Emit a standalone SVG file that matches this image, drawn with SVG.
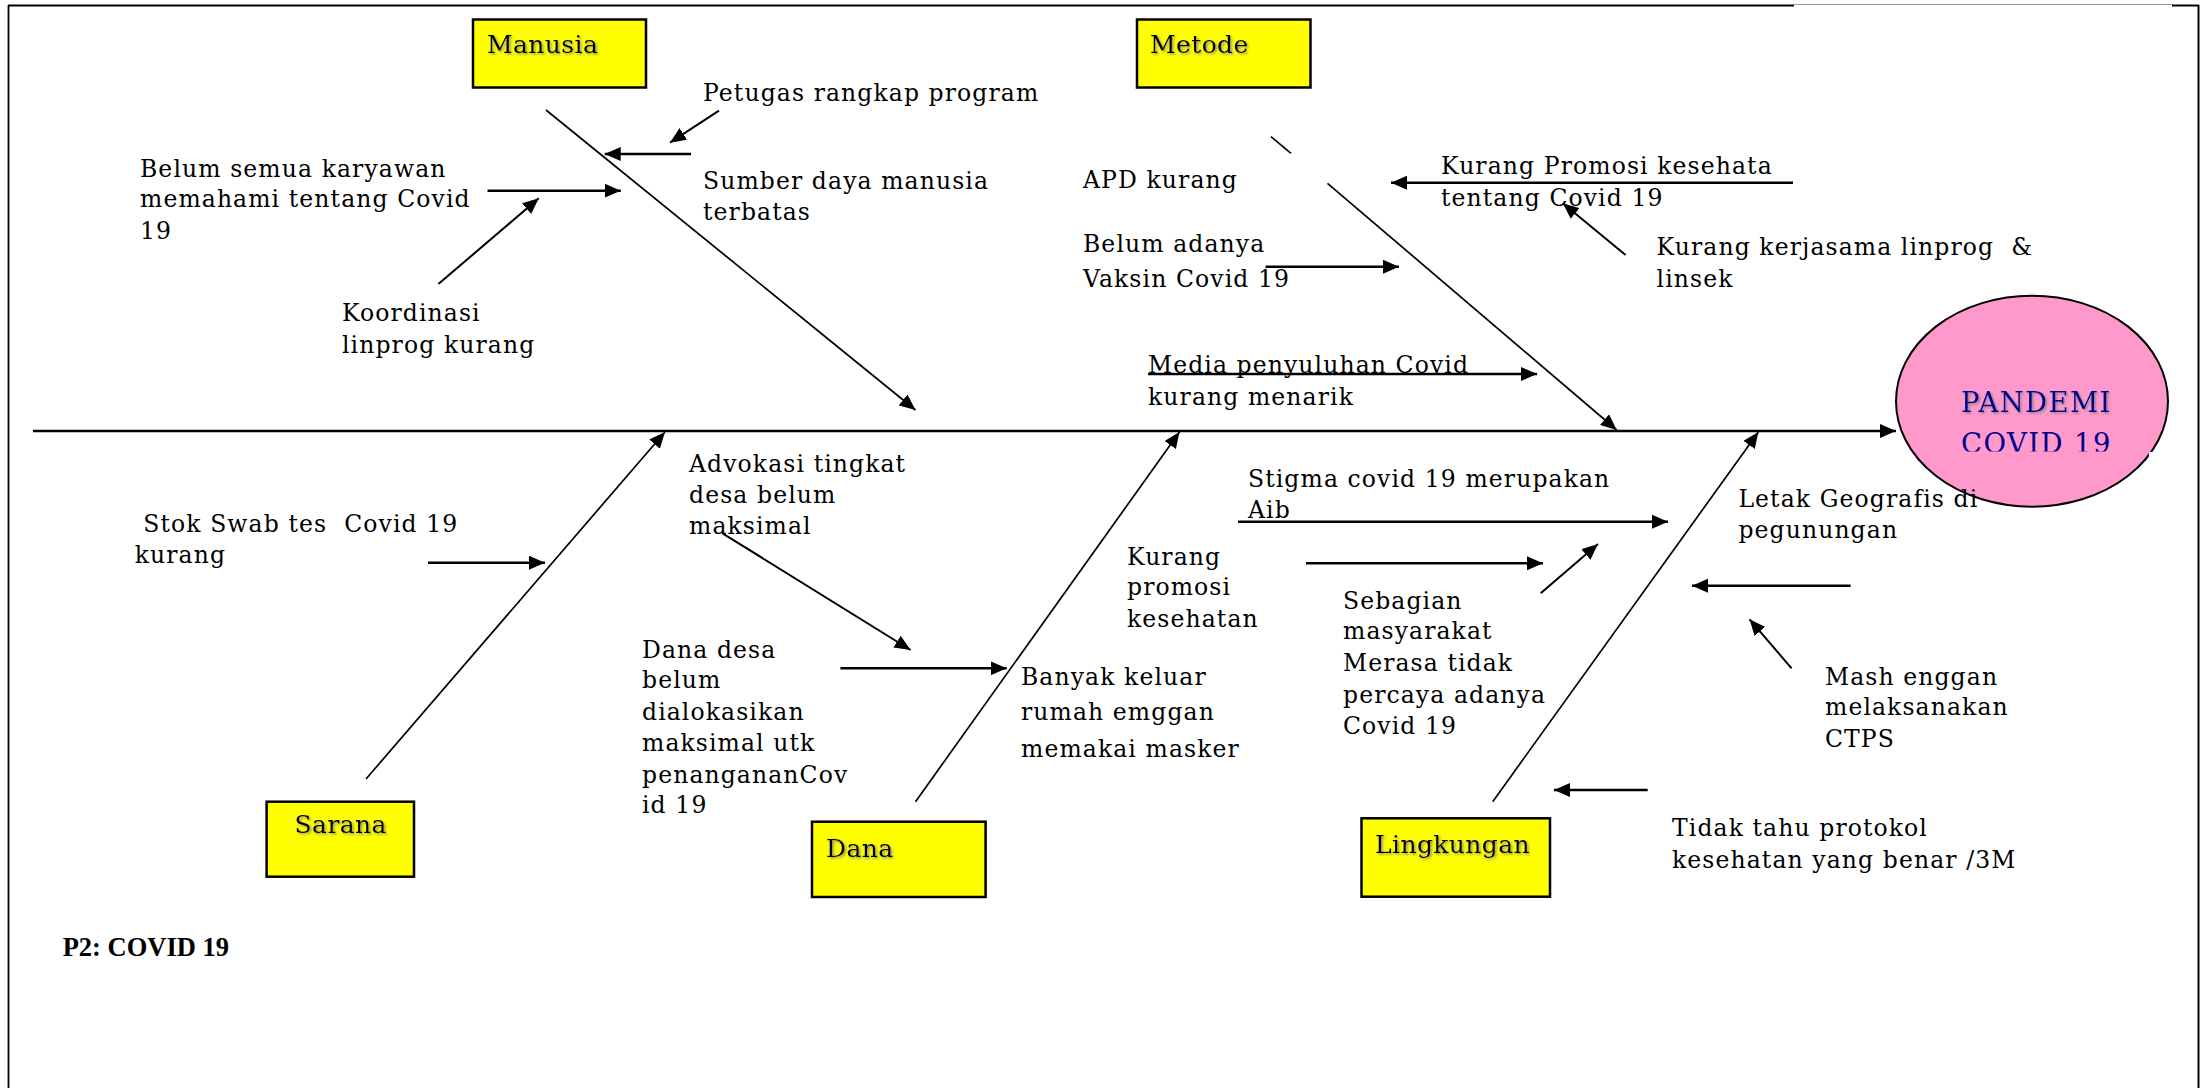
<svg xmlns="http://www.w3.org/2000/svg" width="2207" height="1088" viewBox="0 0 2207 1088">
<style>
.t{font-family:"DejaVu Serif",serif;font-size:23.5px;letter-spacing:1.1px;fill:#000;white-space:pre}
.lbl{font-family:"DejaVu Serif",serif;font-size:25px;letter-spacing:0.4px;fill:#000;filter:url(#sh)}
.box{fill:#ffff00;stroke:#000;stroke-width:2.5}
.bone{stroke:#000;stroke-width:1.7;fill:none}
.ar{stroke:#000;stroke-width:2.6;fill:none}
.thin{stroke:#000;stroke-width:2;fill:none}
</style>
<defs>
<filter id="sh" x="-10%" y="-30%" width="130%" height="170%">
<feDropShadow dx="1.5" dy="1.5" stdDeviation="1" flood-color="#777" flood-opacity="0.8"/>
</filter>
<marker id="ah" markerUnits="userSpaceOnUse" markerWidth="18" markerHeight="14" refX="16" refY="7" orient="auto">
<path d="M0,0 L16,7 L0,14 z" fill="#000"/>
</marker>
<clipPath id="cv"><rect x="1900" y="300" width="260" height="151.5"/></clipPath>
</defs>
<rect width="2207" height="1088" fill="#fff"/>
<g id="frame">
<line x1="8.5" y1="5" x2="8.5" y2="1088" stroke="#000" stroke-width="1.8"/>
<line x1="8" y1="5.5" x2="1794" y2="5.5" stroke="#000" stroke-width="2"/>
<line x1="1794" y1="4.5" x2="2173" y2="4.5" stroke="#999" stroke-width="1.2"/>
<line x1="2172" y1="5.5" x2="2199" y2="5.5" stroke="#000" stroke-width="2"/>
<line x1="2198.5" y1="5" x2="2198.5" y2="1088" stroke="#000" stroke-width="2"/>
</g>
<g id="connectors">
<line class="ar" x1="33" y1="431" x2="1896" y2="431" stroke-width="3" marker-end="url(#ah)"/>
<line class="bone" x1="546" y1="110" x2="915.5" y2="410" marker-end="url(#ah)"/>
<line class="bone" x1="1271" y1="136.7" x2="1291" y2="153.3"/>
<line class="bone" x1="1327.5" y1="183.3" x2="1616.7" y2="430" marker-end="url(#ah)"/>
<line class="bone" x1="366" y1="779" x2="665" y2="432" marker-end="url(#ah)"/>
<line class="bone" x1="915.5" y1="801.7" x2="1179.5" y2="432" marker-end="url(#ah)"/>
<line class="bone" x1="1492.7" y1="801.7" x2="1758.4" y2="432" marker-end="url(#ah)"/>
<line class="thin" x1="719" y1="110.7" x2="670" y2="142.7" marker-end="url(#ah)"/>
<line class="ar" x1="691" y1="154" x2="604.7" y2="154" marker-end="url(#ah)"/>
<line class="ar" x1="487.5" y1="190.7" x2="620.8" y2="190.7" marker-end="url(#ah)"/>
<line class="thin" x1="438.4" y1="284" x2="538.8" y2="198.3" marker-end="url(#ah)"/>
<line class="ar" x1="1793" y1="182.7" x2="1391" y2="182.7" marker-end="url(#ah)"/>
<line class="thin" x1="1625.6" y1="255" x2="1562.8" y2="203.3" marker-end="url(#ah)"/>
<line class="ar" x1="1265.5" y1="266.7" x2="1399" y2="266.7" marker-end="url(#ah)"/>
<line class="ar" x1="1148" y1="374" x2="1537" y2="374" marker-end="url(#ah)"/>
<line class="ar" x1="428" y1="562.7" x2="545" y2="562.7" marker-end="url(#ah)"/>
<line class="thin" x1="722.5" y1="533.3" x2="910.6" y2="650" marker-end="url(#ah)"/>
<line class="ar" x1="840.4" y1="668.3" x2="1006.7" y2="668.3" marker-end="url(#ah)"/>
<line class="ar" x1="1238" y1="521.7" x2="1668" y2="521.7" marker-end="url(#ah)"/>
<line class="ar" x1="1306" y1="563.3" x2="1543" y2="563.3" marker-end="url(#ah)"/>
<line class="thin" x1="1540.7" y1="593.3" x2="1598" y2="544" marker-end="url(#ah)"/>
<line class="ar" x1="1850.6" y1="585.7" x2="1692" y2="585.7" marker-end="url(#ah)"/>
<line class="thin" x1="1791.6" y1="668.3" x2="1749.5" y2="619.3" marker-end="url(#ah)"/>
<line class="ar" x1="1647.7" y1="790" x2="1554" y2="790" marker-end="url(#ah)"/>
</g>
<g id="effect">
<ellipse cx="2032" cy="401.2" rx="136" ry="105.5" fill="#ff99cc" stroke="#000" stroke-width="2"/>
<rect x="2149" y="452" width="24" height="7" fill="#fff"/>
<text x="1961" y="411.7" font-family="DejaVu Serif, serif" font-size="27.5" letter-spacing="1.4" fill="#00008b" filter="url(#sh)">PANDEMI</text>
<text x="1961" y="453" font-family="DejaVu Serif, serif" font-size="27.5" letter-spacing="1.4" fill="#00008b" clip-path="url(#cv)">COVID 19</text>
</g>
<g id="manusia"><rect class="box" x="473" y="19.5" width="173" height="68"/><text class="lbl" x="487" y="53.3">Manusia</text></g>
<g id="metode"><rect class="box" x="1137" y="19.5" width="173.5" height="68"/><text class="lbl" x="1150" y="52.5">Metode</text></g>
<g id="sarana"><rect class="box" x="266.6" y="801.7" width="147.4" height="75"/><text class="lbl" x="294.6" y="833">Sarana</text></g>
<g id="dana"><rect class="box" x="812" y="821.7" width="173.6" height="75.3"/><text class="lbl" x="826" y="856.7">Dana</text></g>
<g id="lingkungan"><rect class="box" x="1361.5" y="818.3" width="188.5" height="78.4"/><text class="lbl" x="1375" y="853.3">Lingkungan</text></g>
<g id="labels">
<text class="t" x="703" y="100.5">Petugas rangkap program</text>
<text class="t" x="703" y="188.8">Sumber daya manusia</text>
<text class="t" x="703" y="220.3">terbatas</text>
<text class="t" x="140" y="176.7">Belum semua karyawan</text>
<text class="t" x="140" y="207.3">memahami tentang Covid</text>
<text class="t" x="140" y="238.7">19</text>
<text class="t" x="342" y="320.7">Koordinasi</text>
<text class="t" x="342" y="352.7">linprog kurang</text>
<text class="t" x="1083" y="188.3">APD kurang</text>
<text class="t" x="1083" y="251.7">Belum adanya</text>
<text class="t" x="1083" y="286.7">Vaksin Covid 19</text>
<text class="t" x="1441" y="174.3">Kurang Promosi kesehata</text>
<text class="t" x="1441" y="205.7">tentang Covid 19</text>
<text class="t" x="1656.6" y="255">Kurang kerjasama linprog  &amp;</text>
<text class="t" x="1656.6" y="286.7">linsek</text>
<text class="t" x="1148" y="373.3">Media penyuluhan Covid</text>
<text class="t" x="1148" y="405">kurang menarik</text>
<text class="t" x="134.7" y="531.7"> Stok Swab tes  Covid 19</text>
<text class="t" x="134.7" y="563.3">kurang</text>
<text class="t" x="689" y="471.7">Advokasi tingkat</text>
<text class="t" x="689" y="503.3">desa belum</text>
<text class="t" x="689" y="534.3">maksimal</text>
<text class="t" x="642" y="657.7">Dana desa</text>
<text class="t" x="642" y="688.3">belum</text>
<text class="t" x="642" y="720">dialokasikan</text>
<text class="t" x="642" y="751">maksimal utk</text>
<text class="t" x="642" y="783.3">penangananCov</text>
<text class="t" x="642" y="813.3">id 19</text>
<text class="t" x="1021" y="685">Banyak keluar</text>
<text class="t" x="1021" y="720">rumah emggan</text>
<text class="t" x="1021" y="756.7">memakai masker</text>
<text class="t" x="1248" y="487.3">Stigma covid 19 merupakan</text>
<text class="t" x="1248" y="518.3">Aib</text>
<text class="t" x="1127" y="565">Kurang</text>
<text class="t" x="1127" y="595">promosi</text>
<text class="t" x="1127" y="626.7">kesehatan</text>
<text class="t" x="1343" y="609.3">Sebagian</text>
<text class="t" x="1343" y="639.3">masyarakat</text>
<text class="t" x="1343" y="670.7">Merasa tidak</text>
<text class="t" x="1343" y="703.3">percaya adanya</text>
<text class="t" x="1343" y="734.3">Covid 19</text>
<text class="t" x="1738.4" y="507.3">Letak Geografis di</text>
<text class="t" x="1738.4" y="538.3">pegunungan</text>
<text class="t" x="1825" y="685">Mash enggan</text>
<text class="t" x="1825" y="715">melaksanakan</text>
<text class="t" x="1825" y="746.7">CTPS</text>
<text class="t" x="1672" y="836">Tidak tahu protokol</text>
<text class="t" x="1672" y="867.5">kesehatan yang benar /3M</text>
<text x="62.7" y="956" font-family="Liberation Serif, serif" font-size="26.5" font-weight="bold">P2: COVID 19</text>
</g>
</svg>
